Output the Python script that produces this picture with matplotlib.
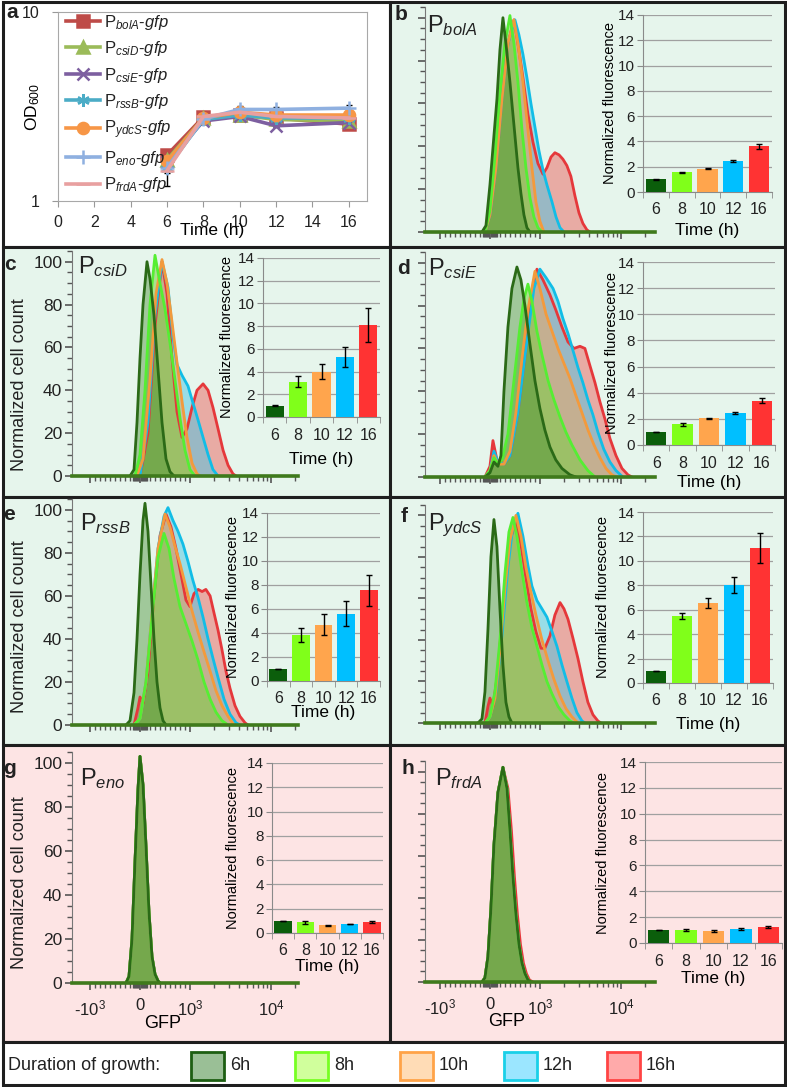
import numpy as np
import matplotlib
matplotlib.use("Agg")
import matplotlib.pyplot as plt
from matplotlib.patches import Rectangle
from matplotlib.ticker import FixedLocator, MultipleLocator, NullFormatter

plt.rcParams["font.family"] = ["Liberation Sans", "DejaVu Sans"]
plt.rcParams["mathtext.fontset"] = "custom"
plt.rcParams["mathtext.rm"] = "Liberation Sans"
plt.rcParams["mathtext.it"] = "Liberation Sans:italic"
plt.rcParams["mathtext.bf"] = "Liberation Sans:bold"
plt.rcParams["text.color"] = "#222222"
plt.rcParams["xtick.color"] = "#444444"
plt.rcParams["ytick.color"] = "#444444"
plt.rcParams["xtick.labelcolor"] = "#222222"
plt.rcParams["ytick.labelcolor"] = "#222222"

# ---------------- data ----------------
HOURS = [6, 8, 10, 12, 16]
TIME_LABELS = ["6", "8", "10", "12", "16"]
LEGEND_LABELS = ["6h", "8h", "10h", "12h", "16h"]

# panel a: OD600 growth curves
OD_BOLA = [1.75, 2.78, 2.85, 2.75, 2.55]
OD_CSID = [1.65, 2.75, 2.85, 2.70, 2.65]
OD_CSIE = [1.60, 2.65, 2.80, 2.50, 2.60]
OD_RSSB = [1.50, 2.70, 2.85, 2.75, 2.75]
OD_YDCS = [1.62, 2.75, 2.95, 2.85, 2.85]
OD_ENO = [1.50, 2.72, 3.05, 3.05, 3.10]
OD_FRDA = [1.45, 2.80, 2.95, 2.80, 2.75]
OD_ERR_BOLA = [0.12, 0.06, 0.06, 0.05, 0.06]
OD_ERR_CSID = [0.06, 0.05, 0.06, 0.05, 0.05]
OD_ERR_CSIE = [0.05, 0.05, 0.05, 0.05, 0.05]
OD_ERR_RSSB = [0.05, 0.05, 0.06, 0.05, 0.05]
OD_ERR_YDCS = [0.06, 0.05, 0.06, 0.06, 0.06]
OD_ERR_ENO = [0.30, 0.06, 0.12, 0.10, 0.12]
OD_ERR_FRDA = [0.05, 0.05, 0.05, 0.05, 0.05]

# normalized fluorescence (bar insets) and errors
FL_BOLA = [1.0, 1.55, 1.85, 2.45, 3.6]
FL_ERR_BOLA = [0.02, 0.05, 0.07, 0.05, 0.2]
FL_CSID = [1.0, 3.1, 4.0, 5.3, 8.1]
FL_ERR_CSID = [0.02, 0.5, 0.65, 0.9, 1.5]
FL_CSIE = [1.0, 1.6, 2.05, 2.45, 3.4]
FL_ERR_CSIE = [0.02, 0.12, 0.03, 0.1, 0.2]
FL_RSSB = [1.0, 3.85, 4.7, 5.6, 7.55]
FL_ERR_RSSB = [0.03, 0.6, 0.9, 1.05, 1.3]
FL_YDCS = [1.0, 5.5, 6.55, 8.0, 11.05]
FL_ERR_YDCS = [0.02, 0.25, 0.4, 0.65, 1.2]
FL_ENO = [1.0, 0.9, 0.65, 0.75, 0.9]
FL_ERR_ENO = [0.02, 0.12, 0.05, 0.03, 0.05]
FL_FRDA = [1.0, 0.98, 0.93, 1.07, 1.22]
FL_ERR_FRDA = [0.03, 0.08, 0.08, 0.08, 0.08]

# flow cytometry histograms: hour -> (GFP values, normalized cell count)
HIST_BOLA = {
    6: ([-160, -80, 0, 80, 140, 200, 260, 320, 400, 480, 560, 620, 680, 740, 800],
        [0, 3, 22, 45, 62, 85, 100, 88, 70, 50, 30, 18, 8, 2, 0]),
    8: ([-100, 0, 100, 200, 300, 400, 480, 560, 640, 720, 800, 880, 960, 1060],
        [0, 10, 35, 65, 88, 101, 88, 70, 48, 30, 16, 7, 2, 0]),
    10: ([-100, 0, 120, 240, 360, 480, 560, 660, 740, 840, 920, 1000, 1120],
         [0, 8, 30, 62, 88, 99, 88, 70, 52, 30, 14, 5, 0]),
    12: ([-100, 0, 120, 240, 360, 500, 580, 660, 740, 820, 900, 980, 1090, 1220, 1410, 1580, 1770, 1980],
         [0, 8, 30, 62, 88, 99, 92, 83, 72, 60, 49, 38, 29, 22, 14, 7, 2, 0]),
    16: ([-100, 0, 120, 240, 360, 480, 560, 660, 760, 860, 960, 1090, 1220, 1370, 1530, 1720, 1920, 2150,
          2410, 2700, 3030, 3390, 3800, 4140],
         [0, 8, 30, 62, 88, 99, 88, 72, 55, 42, 32, 27, 30, 35, 37, 36, 34, 31, 26, 17, 9, 4, 1, 0]),
}
HIST_CSID = {
    6: ([-200, -120, -60, 0, 60, 140, 200, 280, 360, 440, 520, 600, 680],
        [0, 3, 25, 55, 80, 100, 92, 75, 50, 25, 8, 2, 0]),
    8: ([-100, 0, 100, 200, 300, 400, 500, 600, 700, 800, 900, 1000, 1150],
        [0, 10, 40, 80, 103, 90, 78, 62, 45, 27, 12, 3, 0]),
    10: ([-60, 60, 200, 320, 440, 540, 640, 740, 840, 940, 1060, 1220, 1330],
         [0, 8, 45, 85, 101, 90, 72, 53, 35, 18, 6, 1, 0]),
    12: ([0, 160, 300, 440, 560, 660, 740, 840, 960, 1090, 1260, 1450, 1670, 1920, 2220],
         [0, 25, 75, 100, 88, 65, 52, 47, 42, 34, 26, 18, 10, 3, 0]),
    16: ([0, 160, 300, 440, 540, 640, 740, 840, 940, 1060, 1220, 1450, 1670, 1920, 2220, 2560, 2950, 3390, 3700],
         [0, 20, 70, 100, 85, 55, 30, 18, 22, 32, 40, 43, 40, 32, 22, 12, 5, 1, 0]),
}
HIST_CSIE = {
    6: ([-100, 0, 80, 160, 220, 280, 360, 440, 540, 620, 700, 800, 900, 1000, 1150, 1330, 1570, 1870, 2350, 2780],
        [0, 2, 7, 5, 10, 40, 70, 88, 98, 92, 80, 62, 45, 32, 22, 14, 8, 4, 1, 0]),
    8: ([-100, 0, 80, 160, 240, 360, 480, 600, 680, 760, 840, 940, 1060, 1260, 1490, 1770, 2090, 2480, 3120,
         3910, 4780],
        [0, 3, 9, 6, 8, 20, 45, 70, 83, 90, 82, 68, 57, 45, 36, 28, 21, 15, 8, 3, 0]),
    10: ([-100, 0, 80, 160, 280, 400, 520, 640, 760, 900, 1000, 1190, 1410, 1670, 1980, 2350, 2780, 3300, 3910,
          4640, 5510, 6530, 7740, 8920],
         [0, 3, 10, 6, 6, 12, 30, 55, 78, 96, 88, 76, 68, 60, 53, 46, 38, 30, 22, 15, 9, 4, 1, 0]),
    12: ([-100, 0, 80, 160, 280, 400, 560, 720, 880, 1000, 1190, 1450, 1670, 1920, 2220, 2560, 2950, 3390, 3910,
          4510, 5190, 6130, 7310, 8680, 10540],
         [0, 3, 12, 7, 6, 10, 30, 60, 88, 97, 93, 88, 82, 74, 67, 59, 51, 44, 36, 29, 21, 13, 7, 3, 0]),
    16: ([-100, 0, 60, 140, 280, 400, 560, 720, 840, 940, 1090, 1330, 1570, 1870, 2220, 2630, 3120, 3590, 4140,
          4780, 5510, 6350, 7310, 8680, 10290, 12200, 13670],
         [0, 5, 17, 8, 6, 10, 30, 60, 85, 97, 92, 85, 78, 70, 63, 60, 61, 60, 52, 44, 35, 27, 18, 10, 4, 1, 0]),
}
HIST_RSSB = {
    6: ([-280, -200, -120, -60, 0, 60, 100, 160, 220, 280, 340, 400, 460, 520],
        [0, 2, 15, 40, 70, 95, 103, 90, 65, 40, 20, 8, 2, 0]),
    8: ([-120, 0, 120, 240, 360, 480, 580, 680, 800, 920, 1060, 1260, 1490, 1770, 2090, 2480, 2950],
        [0, 3, 20, 50, 78, 89, 82, 68, 55, 47, 39, 30, 20, 12, 6, 2, 0]),
    10: ([-120, 0, 120, 240, 360, 500, 600, 700, 800, 920, 1060, 1260, 1490, 1770, 2090, 2480, 2950, 3490],
         [0, 3, 20, 52, 82, 98, 92, 83, 75, 64, 53, 43, 34, 25, 16, 9, 4, 0]),
    12: ([-120, 0, 120, 240, 360, 480, 560, 660, 760, 860, 960, 1090, 1260, 1450, 1670, 1920, 2220, 2630, 3120,
          3700, 4140],
         [0, 3, 20, 52, 82, 97, 101, 95, 90, 84, 76, 67, 59, 50, 40, 31, 22, 12, 5, 1, 0]),
    16: ([-120, -40, 0, 60, 160, 280, 400, 520, 620, 720, 820, 920, 1000, 1120, 1260, 1410, 1570, 1770, 1980,
          2220, 2480, 2780, 3120, 3590, 4140, 4780, 5190],
         [0, 8, 13, 10, 25, 60, 88, 98, 92, 82, 70, 58, 55, 61, 63, 62, 63, 60, 52, 44, 35, 25, 17, 9, 4, 1, 0]),
}
HIST_YDCS = {
    6: ([-240, -160, -100, -40, 20, 80, 140, 200, 260, 320, 380, 440],
        [0, 2, 15, 45, 80, 98, 85, 55, 28, 10, 3, 0]),
    8: ([-100, 0, 100, 200, 300, 380, 460, 540, 640, 740, 840, 940, 1060, 1220, 1410, 1670, 1980, 2350, 2630],
        [0, 3, 15, 40, 72, 92, 99, 90, 73, 58, 46, 37, 28, 20, 14, 8, 4, 1, 0]),
    10: ([-100, 0, 100, 200, 300, 400, 520, 620, 720, 820, 920, 1060, 1260, 1490, 1770, 2090, 2480, 2950],
         [0, 3, 12, 35, 65, 88, 100, 90, 75, 63, 52, 40, 30, 21, 13, 7, 3, 0]),
    12: ([-100, 0, 120, 240, 360, 460, 560, 660, 760, 840, 940, 1060, 1220, 1410, 1620, 1870, 2150, 2480, 2860,
          3300, 3590],
         [0, 3, 15, 42, 75, 95, 101, 90, 76, 66, 59, 55, 51, 44, 37, 28, 20, 12, 5, 1, 0]),
    16: ([-100, -40, 0, 60, 160, 280, 400, 520, 620, 720, 820, 920, 1030, 1150, 1330, 1530, 1770, 1980, 2220,
          2550, 2950, 3390, 3910, 4510, 5190, 5660],
         [0, 8, 12, 8, 25, 62, 88, 97, 86, 70, 55, 44, 36, 36, 42, 52, 58, 55, 50, 41, 31, 20, 10, 4, 1, 0]),
}
ENO_X = [-280, -220, -160, -100, -40, 0, 60, 120, 180, 240, 300, 360, 400]
ENO_Y = [0, 3, 20, 55, 88, 103, 90, 62, 32, 12, 4, 1, 0]
HIST_ENO = {6: (ENO_X, ENO_Y), 8: (ENO_X, ENO_Y), 10: (ENO_X, ENO_Y), 12: (ENO_X, ENO_Y), 16: (ENO_X, ENO_Y)}
FRDA_X = [-160, -100, -40, 20, 80, 160, 260, 340, 400, 460, 520, 580, 640, 700, 760, 820]
FRDA_Y = [0, 2, 12, 35, 65, 90, 102, 92, 72, 50, 32, 18, 9, 4, 1, 0]
FRDA_16_X = [-160, -100, -40, 20, 80, 160, 260, 360, 430, 490, 550, 610, 670, 730, 790, 860]
HIST_FRDA = {6: (FRDA_X, FRDA_Y), 8: (FRDA_X, FRDA_Y), 10: (FRDA_X, FRDA_Y), 12: (FRDA_X, FRDA_Y),
             16: (FRDA_16_X, FRDA_Y)}

# ---------------- styles ----------------
W, H = 787, 1087
GREEN_BG = "#e6f5ec"
PINK_BG = "#fde4e4"
BAR_COLORS = ["#0b5e0b", "#80ff1a", "#ffa54d", "#00bfff", "#ff3333"]
HIST_LINE = {6: "#2b6a17", 8: "#55ee33", 10: "#f39a3c", 12: "#12bde6", 16: "#e5383b"}
HIST_FILL = {6: "#3f8a2a", 8: "#7ccf45", 10: "#f0a860", 12: "#4cc6e4", 16: "#ea6e6a"}
HIST_ALPHA = {6: 0.42, 8: 0.55, 10: 0.5, 12: 0.5, 16: 0.55}
LEG_FILL = ["#9abf96", "#d0ff9c", "#ffdcb6", "#9be6ff", "#ffaaaa"]
LEG_EDGE = ["#1d5e12", "#77ff22", "#ffa348", "#1ad0e8", "#ff4444"]

fig = plt.figure(figsize=(W / 100, H / 100), dpi=100)


def fbox(l, t, r, b):
    return [l / W, 1 - b / H, (r - l) / W, (b - t) / H]


def ftext(x, y, s, **kw):
    fig.text(x / W, 1 - y / H, s, **kw)


def frect(l, t, r, b, fc, ec, lw, z=-10):
    fig.add_artist(Rectangle((l / W, 1 - b / H), (r - l) / W, (b - t) / H,
                             transform=fig.transFigure, facecolor=fc,
                             edgecolor=ec, lw=lw, zorder=z))


# panel backgrounds and frames
for box, fc in [((3, 2, 390, 247), "white"), ((390, 2, 785, 247), GREEN_BG),
                ((3, 247, 390, 497), GREEN_BG), ((390, 247, 785, 497), GREEN_BG),
                ((3, 497, 390, 745), GREEN_BG), ((390, 497, 785, 745), GREEN_BG),
                ((3, 745, 390, 1042), PINK_BG), ((390, 745, 785, 1042), PINK_BG),
                ((3, 1042, 785, 1085), "white")]:
    frect(*box, fc=fc, ec="#1e1e1e", lw=2.2)

# ---------------- panel a ----------------
axa = fig.add_axes(fbox(58, 12, 367, 201))
axa.set_facecolor("none")
series = [
    (r"P$_{bolA}$-$gfp$", OD_BOLA, OD_ERR_BOLA, "#be4b48", "s", 8),
    (r"P$_{csiD}$-$gfp$", OD_CSID, OD_ERR_CSID, "#9bbb59", "^", 8),
    (r"P$_{csiE}$-$gfp$", OD_CSIE, OD_ERR_CSIE, "#7d5fa0", "x", 8),
    (r"P$_{rssB}$-$gfp$", OD_RSSB, OD_ERR_RSSB, "#4bacc6", (6, 2, 0), 9),
    (r"P$_{ydcS}$-$gfp$", OD_YDCS, OD_ERR_YDCS, "#f79646", "o", 8),
    (r"P$_{eno}$-$gfp$", OD_ENO, OD_ERR_ENO, "#8fb0e0", "+", 10),
    (r"P$_{frdA}$-$gfp$", OD_FRDA, OD_ERR_FRDA, "#e8a0a0", "_", 10),
]
for lab, vals, errs, col, mk, ms in series:
    axa.errorbar(HOURS, vals, yerr=errs, fmt="none", ecolor="black", elinewidth=1,
                 capsize=2.5, capthick=1, zorder=2)
    axa.plot(HOURS, vals, color=col, marker=mk, ms=ms, mew=1.8, lw=2.6, label=lab, zorder=3)
axa.set_yscale("log")
axa.set_ylim(1, 10)
axa.set_yticks([1, 10])
axa.set_yticklabels(["1", "10"])
axa.yaxis.set_minor_locator(FixedLocator([]))
axa.set_xlim(0, 17)
axa.set_xticks(range(0, 17, 2))
axa.tick_params(labelsize=11.5, length=4, color="#999999")
axa.tick_params(axis="y", pad=9)
axa.tick_params(axis="x", pad=6)
for s in axa.spines.values():
    s.set_color("#a8a8a8")
axa.set_ylabel("OD$_{600}$", fontsize=12.5)
axa.yaxis.set_label_coords(-0.052, 0.5)
axa.set_xlabel("Time (h)", fontsize=12.5)
axa.xaxis.set_label_coords(0.5, -30 / 189)
axa.xaxis.label.set_va("center")
axa.legend(loc="upper left", bbox_to_anchor=(0.0, 1.04), frameon=False, fontsize=12,
           handlelength=2.0, handletextpad=0.25, labelspacing=0.45, borderaxespad=0.1)


# ---------------- histogram panels ----------------
HIST_MINOR = ([-900, -800, -700, -600, -500, -400, -300, -200]
              + [-140, -120, -100, -80, -60, -40, -20, 20, 40, 60, 80, 100, 120, 140]
              + [200, 300, 400, 500, 600, 700, 800, 900]
              + [2000, 3000, 4000, 5000, 6000, 7000, 8000, 9000, 20000])


def hist_axes(box, xlim, curves, left_col, gfp_labels):
    ax = fig.add_axes(fbox(*box))
    ax.set_facecolor("none")
    for h in [16, 12, 10, 8, 6]:
        x, y = curves[h]
        ax.fill_between(x, y, 0, color=HIST_FILL[h], alpha=HIST_ALPHA[h], lw=0)
        ax.plot(x, y, color=HIST_LINE[h], lw=2.0, solid_joinstyle="round")
    ax.axhline(0, color="#3f7a1c", lw=2.6, zorder=5, clip_on=False)
    ax.set_xscale("symlog", linthresh=1000, linscale=0.555)
    ax.set_xlim(*xlim)
    ax.set_ylim(0, 105)
    ax.set_xticks([-1000, 0, 1000, 10000])
    ax.xaxis.set_minor_locator(FixedLocator(HIST_MINOR))
    ax.xaxis.set_minor_formatter(NullFormatter())
    if gfp_labels:
        ax.set_xticklabels(["-10$^3$", "0", "10$^3$", "10$^4$"])
    else:
        ax.set_xticklabels([])
    ax.set_yticks(range(0, 101, 20))
    ax.yaxis.set_minor_locator(MultipleLocator(5))
    if not left_col:
        ax.set_yticklabels([])
    ax.tick_params(axis="both", which="major", length=5, width=1.2, color="#555555",
                   labelsize=12.5, pad=2)
    ax.tick_params(axis="x", which="major", labelsize=12, pad=6)
    ax.tick_params(axis="both", which="minor", length=3.5, width=1.0, color="#555555")
    for s in ["top", "right"]:
        ax.spines[s].set_visible(False)
    ax.spines["left"].set_color("#777777")
    ax.spines["bottom"].set_color("#555555")
    return ax


def bar_axes(box, vals, errs, lab_off, xlab_off, ylab_off):
    ax = fig.add_axes(fbox(*box))
    ax.set_facecolor("none")
    x = np.arange(len(HOURS))
    ax.bar(x, vals, width=0.78, color=BAR_COLORS, zorder=3)
    ax.errorbar(x, vals, yerr=errs, fmt="none", ecolor="black", elinewidth=1,
                capsize=2.5, capthick=1, zorder=4)
    ax.set_ylim(0, 14)
    ax.set_yticks(range(0, 15, 2))
    ax.yaxis.grid(True, color="#a0a0a0", lw=0.9)
    ax.set_axisbelow(True)
    ax.set_xlim(-0.5, 4.5)
    ax.set_xticks(x)
    ax.set_xticklabels(TIME_LABELS)
    ax.set_xticks(np.arange(-0.5, 5.0, 1.0), minor=True)
    ax.tick_params(axis="x", which="major", length=0, labelsize=11.5, pad=lab_off)
    ax.tick_params(axis="x", which="minor", length=4, color="#8a8a8a")
    ax.tick_params(axis="y", length=4, color="#8a8a8a", labelsize=11, pad=2)
    for s in ["top", "right"]:
        ax.spines[s].set_visible(False)
    ax.spines["left"].set_color("#8a8a8a")
    ax.spines["bottom"].set_color("#8a8a8a")
    hgt = box[3] - box[1]
    wid = box[2] - box[0]
    ax.set_ylabel("Normalized fluorescence", fontsize=10.5)
    ax.yaxis.set_label_coords(-ylab_off / wid, 0.5)
    ax.yaxis.label.set_va("center")
    ax.set_xlabel("Time (h)", fontsize=12.5)
    ax.xaxis.set_label_coords(0.5, -xlab_off / hgt)
    ax.xaxis.label.set_va("center")
    return ax


LEFT_XLIM = (-1668, 21500)
RIGHT_XLIM = (-1530, 26300)

hist_axes((425, 7, 655, 232), RIGHT_XLIM, HIST_BOLA, False, False)
hist_axes((72, 251, 298, 476), LEFT_XLIM, HIST_CSID, True, False)
hist_axes((425, 252, 655, 477), RIGHT_XLIM, HIST_CSIE, False, False)
hist_axes((72, 499, 298, 725), LEFT_XLIM, HIST_RSSB, True, False)
hist_axes((425, 505, 655, 723), RIGHT_XLIM, HIST_YDCS, False, False)
axg = hist_axes((72, 752, 298, 983), LEFT_XLIM, HIST_ENO, True, True)
axh = hist_axes((425, 761, 655, 982), RIGHT_XLIM, HIST_FRDA, False, True)
for ax, cx in [(axg, (163 - 72) / 226), (axh, (507 - 425) / 230)]:
    ax.set_xlabel("GFP", fontsize=13)
    ax.xaxis.set_label_coords(cx, -41 / 231)
    ax.xaxis.label.set_va("center")

bar_axes((643, 15, 772, 192), FL_BOLA, FL_ERR_BOLA, 7, 38, 33)
bar_axes((263, 258, 380, 417), FL_CSID, FL_ERR_CSID, 8, 43, 36)
bar_axes((643, 262, 775, 445), FL_CSIE, FL_ERR_CSIE, 8, 37, 31)
bar_axes((267, 513, 380, 681), FL_RSSB, FL_ERR_RSSB, 7, 31, 34)
bar_axes((643, 512, 773, 683), FL_YDCS, FL_ERR_YDCS, 7, 42, 40)
bar_axes((272, 763, 383, 933), FL_ENO, FL_ERR_ENO, 7, 34, 39)
bar_axes((645, 762, 782, 943), FL_FRDA, FL_ERR_FRDA, 8, 36, 42)

# cell-count axis titles (left column)
for yc in [385, 627, 883]:
    ftext(20, yc, "Normalized cell count", fontsize=13, rotation=90, ha="center", va="center")

# panel letters
for (x, y, s) in [(12, 13, "a"), (401, 15, "b"), (10, 265, "c"), (403, 268, "d"),
                  (9, 515, "e"), (404, 516, "f"), (9, 768, "g"), (408, 768, "h")]:
    ftext(x, y, s, fontsize=15, fontweight="bold", ha="center", va="center")

# promoter names
for (x, y, s) in [(427, 32, r"P$_{bolA}$"), (78, 273, r"P$_{csiD}$"), (428, 275, r"P$_{csiE}$"),
                  (80, 530, r"P$_{rssB}$"), (428, 530, r"P$_{ydcS}$"), (80, 785, r"P$_{eno}$"),
                  (435, 785, r"P$_{frdA}$")]:
    ftext(x, y, s, fontsize=17, ha="left", va="baseline")

# duration-of-growth legend bar
ftext(8, 1066, "Duration of growth:", fontsize=13, ha="left", va="center")
for i, lab in enumerate(LEGEND_LABELS):
    x0 = [191, 295, 400, 504, 607][i]
    frect(x0, 1052, x0 + 33, 1080, fc=LEG_FILL[i], ec=LEG_EDGE[i], lw=2.0, z=1)
    ftext(x0 + 39, 1066, lab, fontsize=13, ha="left", va="center")

fig.savefig("out.png", dpi=100)
